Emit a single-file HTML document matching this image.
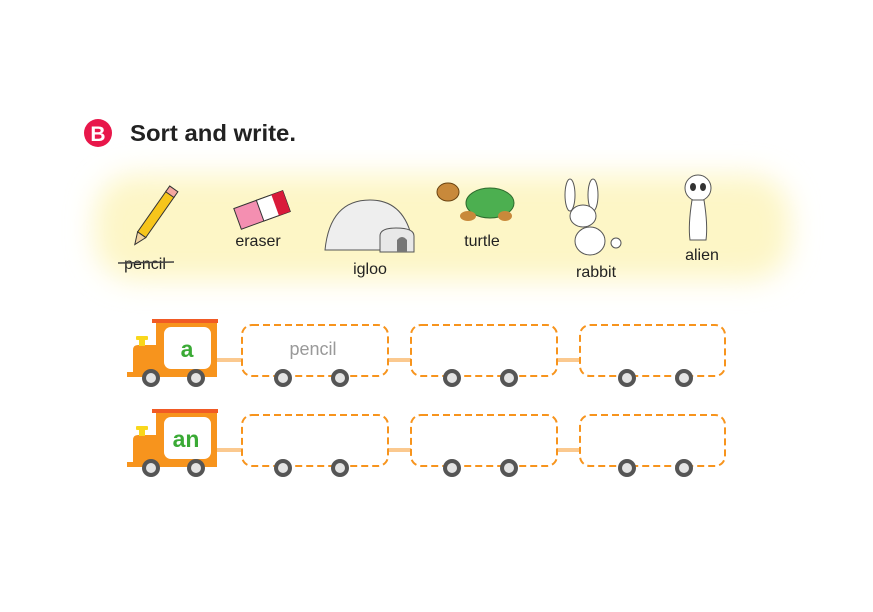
<!DOCTYPE html>
<html><head><meta charset="utf-8"><style>
body{margin:0;background:#fff;}
svg{display:block;font-family:"Liberation Sans",sans-serif;}
</style></head><body>
<svg width="873" height="612" viewBox="0 0 873 612" xmlns="http://www.w3.org/2000/svg">
<defs>
<filter id="bl" x="-20%" y="-50%" width="140%" height="200%"><feGaussianBlur stdDeviation="14"/></filter>
<g id="wheel"><circle r="9" fill="#555"/><circle r="5" fill="#e4e4e4"/></g>
<g id="engine">
<rect x="152" y="319" width="66" height="4" fill="#f15a24"/>
<rect x="156" y="323" width="61" height="54" fill="#f7941d"/>
<path d="M133 376 V350 Q133 345 138 345 H157 V376 Z" fill="#f7941d"/>
<rect x="127" y="372" width="90" height="5" fill="#f7941d"/>
<rect x="139" y="339" width="6" height="7" fill="#f9d71c"/><rect x="136" y="336" width="12" height="4" rx="1" fill="#f9d71c"/>
<rect x="164" y="327" width="47" height="42" rx="7" fill="#fff"/>
<rect x="217" y="358" width="26" height="4" fill="#fbc98f"/>
<rect x="388" y="358" width="23" height="4" fill="#fbc98f"/>
<rect x="557" y="358" width="23" height="4" fill="#fbc98f"/>
<g fill="none" stroke="#f7941d" stroke-width="2" stroke-dasharray="7,4">
<rect x="242" y="325" width="146" height="51" rx="10"/>
<rect x="411" y="325" width="146" height="51" rx="10"/>
<rect x="580" y="325" width="145" height="51" rx="10"/>
</g>
<use href="#wheel" x="151" y="378"/><use href="#wheel" x="196" y="378"/>
<use href="#wheel" x="283" y="378"/><use href="#wheel" x="340" y="378"/>
<use href="#wheel" x="452" y="378"/><use href="#wheel" x="509" y="378"/>
<use href="#wheel" x="627" y="378"/><use href="#wheel" x="684" y="378"/>
</g>
</defs>
<rect x="95" y="175" width="695" height="105" rx="40" fill="#fdf6c6" filter="url(#bl)"/>
<circle cx="98" cy="133" r="14" fill="#e8174a"/>
<text x="98" y="141" font-size="21" font-weight="bold" fill="#fff" text-anchor="middle">B</text>
<text x="130" y="141" font-size="23" font-weight="bold" fill="#222" textLength="166" lengthAdjust="spacingAndGlyphs">Sort and write.</text>
<!-- pencil -->
<g transform="translate(152,220) rotate(35)"><rect x="-5" y="-32" width="10" height="50" fill="#f6c51b" stroke="#333" stroke-width="1"/><rect x="-5" y="-38" width="10" height="7" fill="#f4a7a0" stroke="#333"/><path d="M-5 18 L0 30 L5 18Z" fill="#f1d3a0" stroke="#333"/></g>
<!-- eraser -->
<g transform="translate(262,210) rotate(-20)"><rect x="-26" y="-11" width="52" height="22" fill="#f48fb1" stroke="#333"/><rect x="-2" y="-11" width="28" height="22" fill="#fff" stroke="#333"/><rect x="14" y="-11" width="12" height="22" fill="#d91a3a"/></g>
<!-- igloo -->
<path d="M325 250 Q330 200 370 200 Q408 200 414 250 Z" fill="#eee" stroke="#555"/>
<path d="M380 252 V236 Q380 228 396 228 Q414 228 414 236 V252Z" fill="#e8e8e8" stroke="#555"/>
<path d="M397 252 V240 Q402 234 407 240 V252Z" fill="#777"/>
<!-- turtle -->
<ellipse cx="490" cy="203" rx="24" ry="15" fill="#4caf50" stroke="#2e6b2e"/><ellipse cx="448" cy="192" rx="11" ry="9" fill="#c8893b" stroke="#6b4412"/>
<ellipse cx="468" cy="216" rx="8" ry="5" fill="#c8893b"/><ellipse cx="505" cy="216" rx="7" ry="5" fill="#c8893b"/>
<!-- rabbit -->
<ellipse cx="570" cy="195" rx="5" ry="16" fill="#fff" stroke="#555"/><ellipse cx="593" cy="195" rx="5" ry="16" fill="#fff" stroke="#555"/>
<ellipse cx="583" cy="216" rx="13" ry="11" fill="#fff" stroke="#555"/><ellipse cx="590" cy="241" rx="15" ry="14" fill="#fff" stroke="#555"/><circle cx="616" cy="243" r="5" fill="#fff" stroke="#555"/>
<!-- alien -->
<ellipse cx="698" cy="188" rx="13" ry="13" fill="#fff" stroke="#555"/><ellipse cx="693" cy="187" rx="3" ry="4" fill="#333"/><ellipse cx="703" cy="187" rx="3" ry="4" fill="#333"/>
<path d="M692 200 Q688 225 690 240 H706 Q708 225 704 200Z" fill="#fff" stroke="#555"/>
<g font-size="16" fill="#222" text-anchor="middle">
<text x="145" y="269">pencil</text><line x1="118" y1="263" x2="174" y2="262" stroke="#444" stroke-width="1.5"/>
<text x="258" y="246">eraser</text><text x="370" y="274">igloo</text>
<text x="482" y="246">turtle</text><text x="596" y="277">rabbit</text><text x="702" y="260">alien</text>
</g>
<use href="#engine"/>
<use href="#engine" y="90"/>
<g font-weight="bold" fill="#3aaa35" text-anchor="middle" font-size="23">
<text x="187" y="357">a</text><text x="186" y="447">an</text></g>
<text x="313" y="355" font-size="18" fill="#999" text-anchor="middle">pencil</text>
</svg>
</body></html>
